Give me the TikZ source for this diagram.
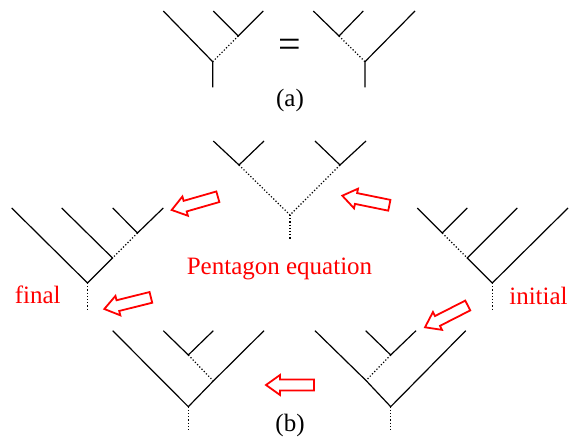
\documentclass[tikz,border=0pt]{standalone}
\usepackage{fontspec}
\setmainfont{Liberation Serif}
\begin{document}
\begin{tikzpicture}[x=1pt,y=-1pt,
  edge/.style={line width=1.2pt,black},
  dotedge/.style={line width=1.2pt,black,dash pattern=on 1.2pt off 2pt},
  redtxt/.style={text=red,font=\fontsize{25}{29}\selectfont,inner sep=0pt},
  blktxt/.style={text=black,font=\fontsize{25}{29}\selectfont,inner sep=0pt},
  barrow/.pic={\draw[red,line width=1.8pt,line join=miter]
     (0,0) -- (-14,10) -- (-14,5.5) -- (-48,5.5) -- (-48,-5.5) -- (-14,-5.5) -- (-14,-10) -- cycle;}]
\useasboundingbox (0,0) rectangle (571,438);

% ---------- (a) left tree
\coordinate (aL1) at (163.3,11);
\coordinate (aL2) at (213.3,11);
\coordinate (aL3) at (263.3,11);
\coordinate (aJ) at (238.3,36);
\coordinate (aR) at (212.7,61.7);
\coordinate (aS) at (212.7,87.3);
\draw[edge] (aL1) -- (aR) -- (aS);
\draw[edge] (aL2) -- (aJ) -- (aL3);
\draw[dotedge] (aJ) -- (aR);

% ---------- (a) right tree
\coordinate (bL1) at (313.3,11);
\coordinate (bL2) at (363.3,11);
\coordinate (bL3) at (415,11);
\coordinate (bJ) at (339,36);
\coordinate (bR) at (365,61.7);
\coordinate (bS) at (365,87.3);
\draw[edge] (bL1) -- (bJ) -- (bL2);
\draw[edge] (bL3) -- (bR) -- (bS);
\draw[dotedge] (bJ) -- (bR);

\node[blktxt,font=\fontsize{40}{44}\selectfont] (eq) at (290,48) {=};
\node[blktxt] (lbla) at (290,100) {(a)};

% ---------- (b) top tree
\coordinate (tL1) at (213.3,141);
\coordinate (tL2) at (264,141);
\coordinate (tL3) at (315,141);
\coordinate (tL4) at (366,141);
\coordinate (tJ1) at (239,165);
\coordinate (tJ2) at (340,165);
\coordinate (tR) at (290,215);
\coordinate (tS) at (290,240);
\draw[edge] (tL1) -- (tJ1) -- (tL2);
\draw[edge] (tL3) -- (tJ2) -- (tL4);
\draw[dotedge] (tJ1) -- (tR) -- (tJ2);
\draw[dotedge] (tR) -- (tS);

% ---------- final tree
\coordinate (fL1) at (11.7,208);
\coordinate (fL2) at (61.7,208);
\coordinate (fL3) at (112.7,208);
\coordinate (fL4) at (163.3,208);
\coordinate (fJ3) at (137.5,233);
\coordinate (fJ2) at (112.5,258);
\coordinate (fR) at (87.5,283);
\coordinate (fS) at (87.5,310);
\draw[edge] (fL1) -- (fR) -- (fJ2) -- (fL2);
\draw[edge] (fL3) -- (fJ3) -- (fL4);
\draw[dotedge] (fJ3) -- (fJ2);
\draw[dotedge] (fR) -- (fS);

% ---------- initial tree
\coordinate (iL1) at (417.3,208);
\coordinate (iL2) at (467.3,208);
\coordinate (iL3) at (517.3,208);
\coordinate (iL4) at (568,208);
\coordinate (iJ1) at (442.3,233);
\coordinate (iJ2) at (467.3,258);
\coordinate (iR) at (492.3,283);
\coordinate (iS) at (492.3,310);
\draw[edge] (iL1) -- (iJ1) -- (iL2);
\draw[edge] (iL3) -- (iJ2) -- (iR) -- (iL4);
\draw[dotedge] (iJ1) -- (iJ2);
\draw[dotedge] (iR) -- (iS);

% ---------- bottom left tree
\coordinate (gL1) at (112.7,330.7);
\coordinate (gL2) at (163.3,330.7);
\coordinate (gL3) at (213.3,330.7);
\coordinate (gL4) at (264,330.7);
\coordinate (gJ) at (188.3,355);
\coordinate (gM) at (213.3,381);
\coordinate (gR) at (188.3,406.7);
\coordinate (gS) at (188.3,431.7);
\draw[edge] (gL1) -- (gR) -- (gM) -- (gL4);
\draw[edge] (gL2) -- (gJ) -- (gL3);
\draw[dotedge] (gJ) -- (gM);
\draw[dotedge] (gR) -- (gS);

% ---------- bottom right tree
\coordinate (hL1) at (315,330.7);
\coordinate (hL2) at (365.7,330.7);
\coordinate (hL3) at (416,330.7);
\coordinate (hL4) at (465.7,330.7);
\coordinate (hJ) at (390.7,355);
\coordinate (hM) at (366,380.5);
\coordinate (hR) at (390.7,406.7);
\coordinate (hS) at (390.7,431.7);
\draw[edge] (hL1) -- (hM) -- (hR) -- (hL4);
\draw[edge] (hL2) -- (hJ) -- (hL3);
\draw[dotedge] (hJ) -- (hM);
\draw[dotedge] (hR) -- (hS);

% ---------- labels
\node[redtxt] (pent) at (279.5,269) {Pentagon equation};
\node[redtxt] (fin) at (37.7,295) {final};
\node[redtxt] (ini) at (538.5,296) {initial};
\node[blktxt] (lblb) at (290,425) {(b)};

% ---------- arrows
\pic[rotate=196] at (171.7,210) {barrow};
\pic[rotate=168.5] at (342.3,195.7) {barrow};
\pic[rotate=194] at (104.3,309) {barrow};
\pic[rotate=207] at (425,327.3) {barrow};
\pic[rotate=180] at (266,385) {barrow};
\end{tikzpicture}
\end{document}
